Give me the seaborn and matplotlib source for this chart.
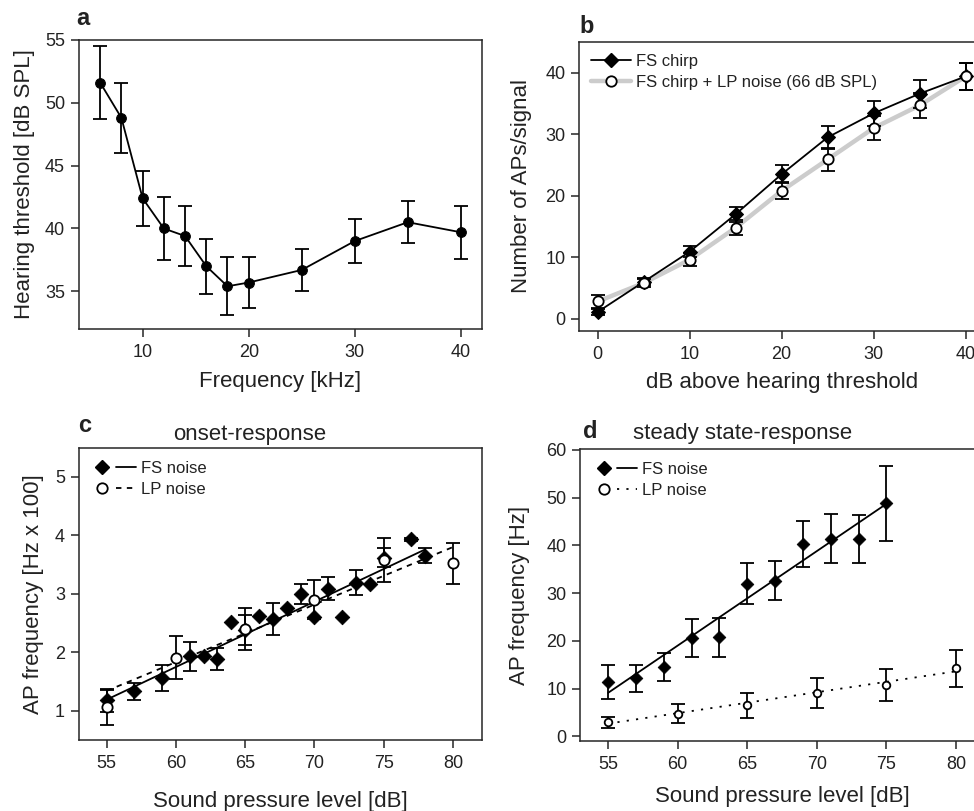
import matplotlib
matplotlib.use("Agg")
import matplotlib.pyplot as plt
import seaborn as sns
import numpy as np
from matplotlib.lines import Line2D
from matplotlib.legend_handler import HandlerTuple

# panel a - hearing threshold
freq_khz = [6, 8, 10, 12, 14, 16, 18, 20, 25, 30, 35, 40]
threshold = [51.6, 48.8, 42.4, 40.0, 39.4, 37.0, 35.4, 35.7, 36.7, 39.0, 40.5, 39.7]
threshold_err = [2.9, 2.8, 2.2, 2.5, 2.35, 2.2, 2.3, 2.0, 1.7, 1.75, 1.65, 2.1]

# panel b - APs per signal
db_above = [0, 5, 10, 15, 20, 25, 30, 35, 40]
chirp = [1.1, 6.0, 10.9, 17.0, 23.5, 29.5, 33.4, 36.6, 39.4]
chirp_err = [0.5, 0.6, 0.9, 1.2, 1.5, 1.9, 2.0, 2.3, 2.2]
chirp_lp = [2.8, 5.8, 9.6, 14.8, 20.8, 25.9, 31.0, 34.7, 39.4]
chirp_lp_err = [1.0, 0.6, 1.1, 1.2, 1.4, 1.8, 1.9, 2.0, 2.2]

# panel c - onset response (Hz x 100)
onset_fs_spl = [55, 57, 59, 61, 62, 63, 64, 65, 66, 67, 68, 69, 70, 71, 72, 73, 74, 75, 77, 78]
onset_fs = [1.18, 1.33, 1.56, 1.93, 1.93, 1.88, 2.51, 2.38, 2.62, 2.57, 2.76, 3.0,
            2.6, 3.09, 2.6, 3.19, 3.17, 3.62, 3.93, 3.65]
onset_fs_err = [0.2, 0.15, 0.23, 0.25, 0, 0.19, 0, 0.25, 0, 0.27, 0, 0.17,
                0, 0.2, 0, 0.21, 0, 0.16, 0.03, 0.13]
onset_lp_spl = [55, 60, 65, 70, 75, 80]
onset_lp = [1.06, 1.91, 2.4, 2.9, 3.58, 3.52]
onset_lp_err = [0.3, 0.36, 0.36, 0.33, 0.37, 0.35]
onset_fs_fit_x = [55, 78]
onset_fs_fit = [1.19, 3.76]
onset_lp_fit_x = [55, 80]
onset_lp_fit = [1.34, 3.8]

# panel d - steady state response (Hz)
steady_fs_spl = [55, 57, 59, 61, 63, 65, 67, 69, 71, 73, 75]
steady_fs = [11.3, 12.1, 14.5, 20.6, 20.7, 32.0, 32.6, 40.3, 41.4, 41.4, 48.8]
steady_fs_err = [3.6, 2.9, 2.9, 4.0, 4.1, 4.2, 4.1, 4.9, 5.1, 5.0, 7.8]
steady_lp_spl = [55, 60, 65, 70, 75, 80]
steady_lp = [2.9, 4.7, 6.5, 9.1, 10.7, 14.2]
steady_lp_err = [1.1, 2.0, 2.6, 3.1, 3.3, 3.9]
steady_fs_fit_x = [55, 75]
steady_fs_fit = [9.1, 48.7]
steady_lp_fit_x = [55, 80]
steady_lp_fit = [2.65, 13.6]

sns.set_style("ticks")
plt.rcParams['font.family'] = ['Liberation Sans', 'DejaVu Sans']
plt.rcParams['axes.linewidth'] = 1.1
plt.rcParams['xtick.major.width'] = 1.1
plt.rcParams['ytick.major.width'] = 1.1
plt.rcParams['xtick.major.size'] = 5.5
plt.rcParams['ytick.major.size'] = 5.5
plt.rcParams['xtick.major.pad'] = 5
plt.rcParams['ytick.major.pad'] = 4.5
plt.rcParams['xtick.labelsize'] = 13
plt.rcParams['ytick.labelsize'] = 13
plt.rcParams['axes.labelsize'] = 16
plt.rcParams['text.color'] = '#222222'
plt.rcParams['axes.labelcolor'] = '#222222'
plt.rcParams['xtick.labelcolor'] = '#222222'
plt.rcParams['ytick.labelcolor'] = '#222222'

fig = plt.figure(figsize=(9.74, 8.11), dpi=100)
ax_a = fig.add_axes([0.0811, 0.5943, 0.4138, 0.3564])
ax_b = fig.add_axes([0.5948, 0.5919, 0.4155, 0.3563])
ax_c = fig.add_axes([0.0811, 0.0876, 0.4138, 0.3604])
ax_d = fig.add_axes([0.5958, 0.0863, 0.4143, 0.3601])

ebkw = dict(fmt='none', ecolor='black', elinewidth=1.3, capthick=1.3)

# a
ax = ax_a
ax.errorbar(freq_khz, threshold, yerr=threshold_err, capsize=5, zorder=2, **ebkw)
sns.lineplot(x=freq_khz, y=threshold, ax=ax, color='black', lw=1.3, marker='o',
             markersize=7, markeredgecolor='black', zorder=3)
ax.set_xlim(4, 42)
ax.set_ylim(32, 55)
ax.set_xticks([10, 20, 30, 40])
ax.set_yticks([35, 40, 45, 50, 55])
ax.set_xlabel('Frequency [kHz]', labelpad=7.5)
ax.set_ylabel('Hearing threshold [dB SPL]', labelpad=7)

# b
ax = ax_b
ax.errorbar(db_above, chirp_lp, yerr=chirp_lp_err, capsize=5, zorder=2, **ebkw)
ax.errorbar(db_above, chirp, yerr=chirp_err, capsize=5, zorder=2, **ebkw)
sns.lineplot(x=db_above, y=chirp_lp, ax=ax, color='#cccccc', lw=3.2, zorder=1)
sns.lineplot(x=db_above, y=chirp, ax=ax, color='black', lw=1.3, marker='D',
             markersize=7, markeredgecolor='black', zorder=3)
sns.scatterplot(x=db_above, y=chirp_lp, ax=ax, marker='o', s=55, facecolor='white',
                edgecolor='black', linewidth=1.3, zorder=4)
ax.set_xlim(-2, 42)
ax.set_ylim(-2, 45)
ax.set_xticks([0, 10, 20, 30, 40])
ax.set_yticks([0, 10, 20, 30, 40])
ax.set_xlabel('dB above hearing threshold', labelpad=7)
ax.set_ylabel('Number of APs/signal', labelpad=9.5)
h1 = Line2D([], [], color='black', lw=1.3, marker='D', ms=7)
h2 = Line2D([], [], color='#cccccc', lw=3.2, marker='o', ms=7.5, mfc='white', mec='black', mew=1.3)
ax.legend([h1, h2], ['FS chirp', 'FS chirp + LP noise (66 dB SPL)'], loc='upper left',
          frameon=False, fontsize=12, handlelength=2.4, handletextpad=0.3,
          labelspacing=0.35, borderaxespad=0.3, borderpad=0.4)


def noise_panel(ax, fs_x, fs_y, fs_e, lp_x, lp_y, lp_e, fsfx, fsfy, lpfx, lpfy,
                dash, ms_d, ms_o):
    fs_x = np.array(fs_x); fs_y = np.array(fs_y); fs_e = np.array(fs_e)
    m = fs_e > 0
    ax.errorbar(fs_x[m], fs_y[m], yerr=fs_e[m], capsize=5, zorder=2, **ebkw)
    ax.errorbar(lp_x, lp_y, yerr=lp_e, capsize=5, zorder=2, **ebkw)
    sns.lineplot(x=fsfx, y=fsfy, ax=ax, color='black', lw=1.3, zorder=3)
    sns.lineplot(x=lpfx, y=lpfy, ax=ax, color='black', lw=1.3, zorder=3,
                 linestyle=(0, dash))
    sns.scatterplot(x=fs_x, y=fs_y, ax=ax, marker='D', s=ms_d, color='black',
                    edgecolor='black', zorder=4)
    sns.scatterplot(x=lp_x, y=lp_y, ax=ax, marker='o', s=ms_o, facecolor='white',
                    edgecolor='black', linewidth=1.3, zorder=4)
    hd = Line2D([], [], color='black', lw=0, marker='D', ms=7)
    hl = Line2D([], [], color='black', lw=1.3)
    ho = Line2D([], [], color='black', lw=0, marker='o', ms=7.5, mfc='white', mec='black', mew=1.3)
    hdash = Line2D([], [], color='black', lw=1.3, linestyle=(0, dash))
    ax.legend([(hd, hl), (ho, hdash)], ['FS noise', 'LP noise'], loc='upper left',
              handler_map={tuple: HandlerTuple(ndivide=None, pad=0.2)},
              frameon=False, fontsize=12, handlelength=2.6, handletextpad=0.3,
              labelspacing=0.35, borderaxespad=0.3, borderpad=0.5)
    ax.set_xticks([55, 60, 65, 70, 75, 80])


# c
noise_panel(ax_c, onset_fs_spl, onset_fs, onset_fs_err, onset_lp_spl, onset_lp,
            onset_lp_err, onset_fs_fit_x, onset_fs_fit, onset_lp_fit_x, onset_lp_fit,
            (3, 3), 55, 55)
ax_c.set_xlim(53, 82.1)
ax_c.set_ylim(0.5, 5.5)
ax_c.set_yticks([1, 2, 3, 4, 5])
ax_c.set_xlabel('Sound pressure level [dB]', labelpad=14)
ax_c.set_ylabel('AP frequency [Hz x 100]', labelpad=8)

# d
noise_panel(ax_d, steady_fs_spl, steady_fs, steady_fs_err, steady_lp_spl, steady_lp,
            steady_lp_err, steady_fs_fit_x, steady_fs_fit, steady_lp_fit_x, steady_lp_fit,
            (1.2, 4), 42, 30)
ax_d.set_xlim(53, 82)
ax_d.set_ylim(-1, 60.2)
ax_d.set_yticks([0, 10, 20, 30, 40, 50, 60])
ax_d.set_xlabel('Sound pressure level [dB]', labelpad=9.5)
ax_d.set_ylabel('AP frequency [Hz]', labelpad=11.5)

# panel letters and titles
fig.text(76 / 974, 1 - 25 / 811, 'a', fontsize=17, fontweight='bold', va='baseline')
fig.text(579 / 974, 1 - 33 / 811, 'b', fontsize=17, fontweight='bold', va='baseline')
fig.text(78 / 974, 1 - 432 / 811, 'c', fontsize=17, fontweight='bold', va='baseline')
fig.text(583 / 974, 1 - 438 / 811, 'd', fontsize=17, fontweight='bold', va='baseline')
fig.text(173 / 974, 1 - 440 / 811, 'onset-response', fontsize=16, va='baseline')
fig.text(633 / 974, 1 - 439 / 811, 'steady state-response', fontsize=16, va='baseline')

fig.savefig('out.png', dpi=100)
